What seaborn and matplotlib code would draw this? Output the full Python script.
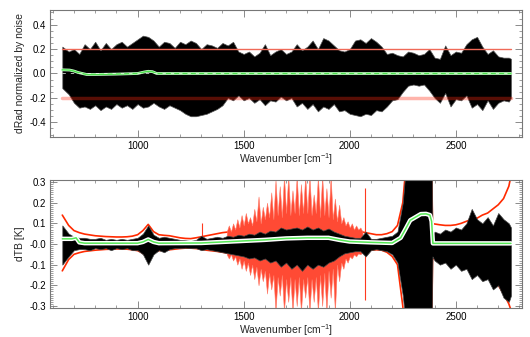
import numpy as np
import pandas as pd
import matplotlib
matplotlib.use("Agg")
import matplotlib.pyplot as plt
import seaborn as sns
from matplotlib.ticker import MultipleLocator, FixedLocator

# ---------------- data ----------------
# top panel: envelope of dRad/noise spectrum
wn_top = np.r_[645, np.arange(675, 2751, 25), 2760]
top_hi = [0.22, 0.18, 0.20, 0.16, 0.24, 0.20, 0.26, 0.19, 0.25, 0.20, 0.24, 0.26, 0.22, 0.25,
          0.28, 0.31, 0.30, 0.27, 0.22, 0.26, 0.25, 0.21, 0.26, 0.24, 0.27, 0.25, 0.20, 0.24,
          0.23, 0.21, 0.25, 0.23, 0.26, 0.18, 0.16, 0.18, 0.14, 0.17, 0.24, 0.15, 0.18, 0.20,
          0.16, 0.18, 0.24, 0.19, 0.22, 0.27, 0.20, 0.29, 0.27, 0.23, 0.19, 0.18, 0.20, 0.27,
          0.28, 0.25, 0.29, 0.26, 0.22, 0.16, 0.17, 0.15, 0.14, 0.18, 0.17, 0.15, 0.16, 0.20,
          0.13, 0.12, 0.23, 0.15, 0.18, 0.17, 0.24, 0.28, 0.30, 0.22, 0.16, 0.19, 0.14, 0.13,
          0.13, 0.12]
top_lo = [-0.12, -0.17, -0.24, -0.28, -0.27, -0.29, -0.26, -0.30, -0.27, -0.29, -0.25, -0.28,
          -0.26, -0.29, -0.25, -0.28, -0.27, -0.24, -0.27, -0.29, -0.26, -0.28, -0.30, -0.33,
          -0.35, -0.35, -0.34, -0.33, -0.31, -0.29, -0.26, -0.20, -0.22, -0.18, -0.22, -0.20,
          -0.24, -0.21, -0.26, -0.22, -0.23, -0.19, -0.22, -0.20, -0.27, -0.24, -0.29, -0.25,
          -0.31, -0.27, -0.29, -0.25, -0.31, -0.30, -0.33, -0.34, -0.35, -0.33, -0.34, -0.30,
          -0.31, -0.27, -0.22, -0.21, -0.15, -0.10, -0.09, -0.10, -0.09, -0.14, -0.20, -0.24,
          -0.16, -0.27, -0.21, -0.22, -0.18, -0.28, -0.25, -0.30, -0.22, -0.29, -0.24, -0.22,
          -0.23, -0.20]
top_mean_wn = [645, 680, 700, 720, 760, 800, 900, 1000, 1030, 1050, 1070, 1090, 1200, 1500, 2000, 2760]
top_mean = [0.03, 0.028, 0.02, 0.008, -0.008, -0.008, -0.005, 0.0, 0.012, 0.018, 0.015, 0.0,
            0.0, 0.0, 0.0, 0.0]
threshold = [0.2, -0.2]
wn_range = [645, 2760]

# bottom panel: dTB
wn_bot = np.r_[645, np.arange(675, 2376, 25), 2385, 2390, np.arange(2400, 2751, 25), 2760]
red_hi = [0.14, 0.09, 0.065, 0.055, 0.048, 0.044, 0.04, 0.038, 0.036, 0.035, 0.034, 0.034,
          0.035, 0.038, 0.045, 0.065, 0.095, 0.06, 0.045, 0.042, 0.04, 0.035, 0.03, 0.027,
          0.026, 0.03, 0.035, 0.04, 0.045, 0.05, 0.055, 0.058, 0.06, 0.065, 0.068, 0.07,
          0.072, 0.075, 0.08, 0.085, 0.09, 0.095, 0.10, 0.11, 0.12, 0.12, 0.12, 0.12, 0.115,
          0.11, 0.105, 0.10, 0.09, 0.08, 0.07, 0.065, 0.06, 0.055, 0.05, 0.045, 0.045, 0.05,
          0.06, 0.09, 0.2, 0.5, 0.5, 0.5, 0.5, 0.5,
          0.5, 0.098,
          0.097, 0.093, 0.09, 0.09, 0.093, 0.10, 0.11, 0.12, 0.125, 0.14, 0.15, 0.17, 0.19,
          0.22, 0.28, 0.33]
red_lo = [-0.13, -0.075, -0.05, -0.042, -0.036, -0.033, -0.03, -0.028, -0.026, -0.025, -0.024,
          -0.024, -0.025, -0.028, -0.032, -0.045, -0.065, -0.04, -0.032, -0.03, -0.028, -0.025,
          -0.022, -0.02, -0.02, -0.022, -0.025, -0.03, -0.033, -0.036, -0.04, -0.045, -0.05,
          -0.055, -0.06, -0.065, -0.07, -0.08, -0.09, -0.10, -0.11, -0.12, -0.13, -0.14, -0.15,
          -0.15, -0.15, -0.15, -0.14, -0.13, -0.12, -0.10, -0.08, -0.06, -0.05, -0.045, -0.04,
          -0.035, -0.03, -0.028, -0.03, -0.04, -0.06, -0.10, -0.3, -0.6, -0.6, -0.6, -0.6, -0.6,
          -0.6, -0.071,
          -0.071, -0.074, -0.076, -0.078, -0.08, -0.09, -0.10, -0.115, -0.125, -0.135, -0.145,
          -0.17, -0.20, -0.24, -0.29, -0.32]
# dense red spike region (spike tips, 10 cm-1 steps)
spike_wn = np.arange(1420, 2061, 10)
spike_hi = [0.06, 0.09, 0.06, 0.10, 0.07, 0.12, 0.08, 0.14, 0.09, 0.15, 0.10, 0.13, 0.09,
            0.17, 0.11, 0.23, 0.10, 0.18, 0.12, 0.20, 0.13, 0.25, 0.12, 0.31, 0.14, 0.28,
            0.13, 0.33, 0.15, 0.33, 0.14, 0.26, 0.15, 0.33, 0.14, 0.29, 0.15, 0.33, 0.15,
            0.33, 0.14, 0.24, 0.15, 0.33, 0.13, 0.33, 0.14, 0.27, 0.13, 0.33, 0.12, 0.22,
            0.11, 0.19, 0.10, 0.13, 0.09, 0.11, 0.08, 0.10, 0.07, 0.09, 0.07, 0.08, 0.06]
spike_lo = [-0.05, -0.07, -0.05, -0.08, -0.06, -0.10, -0.07, -0.12, -0.08, -0.13, -0.09,
            -0.15, -0.10, -0.17, -0.11, -0.20, -0.12, -0.18, -0.13, -0.24, -0.14, -0.22,
            -0.15, -0.33, -0.16, -0.25, -0.15, -0.33, -0.17, -0.28, -0.16, -0.33, -0.17,
            -0.30, -0.16, -0.33, -0.17, -0.26, -0.16, -0.33, -0.17, -0.28, -0.16, -0.33,
            -0.15, -0.30, -0.14, -0.33, -0.13, -0.26, -0.12, -0.33, -0.10, -0.18, -0.09,
            -0.12, -0.07, -0.09, -0.06, -0.07, -0.05, -0.06, -0.045, -0.05, -0.04]
single_wn = [1303, 2072]
single_hi = [0.10, 0.27]
single_lo = [-0.03, -0.27]
blk_hi = [0.09, 0.05, 0.035, 0.03, 0.03, 0.025, 0.025, 0.03, 0.02, 0.025, 0.02, 0.025, 0.02,
          0.025, 0.03, 0.05, 0.09, 0.045, 0.03, 0.035, 0.03, 0.025, 0.02, 0.018, 0.015, 0.02,
          0.04, 0.025, 0.03, 0.035, 0.03, 0.04, 0.035, 0.045, 0.04, 0.05, 0.045, 0.06, 0.05,
          0.065, 0.06, 0.08, 0.07, 0.075, 0.08, 0.07, 0.085, 0.07, 0.08, 0.065, 0.075, 0.06,
          0.05, 0.04, 0.035, 0.03, 0.03, 0.06, 0.025, 0.025, 0.03, 0.035, 0.04, 0.06, 0.2,
          0.5, 0.5, 0.5, 0.5, 0.5,
          0.5, 0.05,
          0.06, 0.05, 0.07, 0.06, 0.08, 0.07, 0.10, 0.17, 0.12, 0.10, 0.13, 0.09, 0.15, 0.12,
          0.10, 0.08]
blk_lo = [-0.10, -0.06, -0.03, -0.025, -0.025, -0.03, -0.02, -0.025, -0.02, -0.03, -0.02,
          -0.025, -0.02, -0.03, -0.03, -0.05, -0.10, -0.05, -0.03, -0.04, -0.025, -0.02,
          -0.02, -0.018, -0.02, -0.02, -0.03, -0.025, -0.03, -0.035, -0.04, -0.045, -0.05,
          -0.055, -0.06, -0.07, -0.065, -0.08, -0.07, -0.09, -0.08, -0.11, -0.09, -0.12, -0.10,
          -0.13, -0.10, -0.12, -0.10, -0.11, -0.09, -0.08, -0.06, -0.045, -0.04, -0.035,
          -0.035, -0.06, -0.03, -0.025, -0.03, -0.035, -0.05, -0.09, -0.25,
          -0.5, -0.5, -0.5, -0.5, -0.5,
          -0.5, -0.06,
          -0.08, -0.10, -0.09, -0.12, -0.10, -0.13, -0.12, -0.17, -0.15, -0.18, -0.17, -0.22,
          -0.20, -0.26, -0.28, -0.25]
bot_mean_wn = [645, 690, 710, 725, 750, 1000, 1025, 1050, 1075, 1100, 1300, 1400, 1500, 1600,
               1700, 1800, 1900, 1950, 2000, 2100, 2200, 2240, 2260, 2285, 2310, 2335, 2360,
               2378, 2386, 2392, 2760]
bot_mean = [0.025, 0.025, 0.03, 0.008, 0.004, 0.004, 0.01, 0.022, 0.01, 0.004, 0.005, 0.01,
            0.015, 0.02, 0.027, 0.03, 0.03, 0.02, 0.012, 0.008, 0.005, 0.03, 0.067, 0.115,
            0.13, 0.145, 0.146, 0.14, 0.11, 0.003, 0.003]

top_ticks = [0.4, 0.2, 0.0, -0.2, -0.4]
top_ticklabels = ["0.4", "0.2", "0.0", "-0.2", "-0.4"]
bot_ticks = [0.3, 0.2, 0.1, 0.0, -0.1, -0.2, -0.3]
bot_ticklabels = ["0.3", "0.2", "0.1", "-0.0", "-0.1", "-0.2", "-0.3"]
x_ticks = [1000, 1500, 2000, 2500]

# ---------------- style ----------------
sns.set_theme(style="ticks")
plt.rcParams["font.family"] = ["Liberation Sans", "DejaVu Sans"]
plt.rcParams["mathtext.fontset"] = "custom"
plt.rcParams["mathtext.rm"] = "Liberation Sans"
plt.rcParams["mathtext.it"] = "Liberation Sans"

fig = plt.figure(figsize=(5.30, 3.37), dpi=100)
ax1 = fig.add_axes([50 / 530, 1 - 137 / 337, 472 / 530, 127 / 337])
ax2 = fig.add_axes([50 / 530, 1 - 308 / 337, 472 / 530, 128 / 337])

XL = (587, 2812)

def style_axes(ax, ylim, yticks, ylabels, yminor, ylabel):
    ax.set_xlim(*XL)
    ax.set_ylim(*ylim)
    ax.xaxis.set_major_locator(FixedLocator(x_ticks))
    ax.xaxis.set_minor_locator(MultipleLocator(100))
    ax.yaxis.set_major_locator(FixedLocator(yticks))
    ax.set_yticklabels(ylabels)
    ax.yaxis.set_minor_locator(MultipleLocator(yminor))
    ax.tick_params(which="both", direction="in", top=True, right=True,
                   color="#777777", labelsize=7, labelcolor="black", pad=3)
    ax.tick_params(which="major", length=5, width=0.6)
    ax.tick_params(which="minor", length=2.5, width=0.5)
    for s in ax.spines.values():
        s.set_color("#777777")
        s.set_linewidth(0.8)
    ax.set_xlabel(r"Wavenumber [cm$^{-1}$]", fontsize=7.5, labelpad=0)
    ax.set_ylabel(ylabel, fontsize=7.5, labelpad=3)

# ---------------- top panel ----------------
ax1.fill_between(wn_top, top_lo, top_hi, color="black", edgecolor="#555555", lw=0.5, zorder=2)
ax1.plot(wn_range, [threshold[0]] * 2, color="#f06a58", lw=1.0, zorder=4)
ax1.plot(wn_range, [threshold[1]] * 2, color="#ff2a10", alpha=0.35, lw=2.5, zorder=4)
df_top = pd.DataFrame({"wn": top_mean_wn, "v": top_mean})
sns.lineplot(data=df_top, x="wn", y="v", ax=ax1, color="#ccffcc", lw=2.0, zorder=5)
sns.lineplot(data=df_top, x="wn", y="v", ax=ax1, color="#4de04d", lw=1.0, zorder=6)
ax1.plot(wn_range, [0, 0], color="white", lw=0.6, dashes=(4, 6), alpha=0.8, zorder=7)
style_axes(ax1, (-0.52, 0.52), top_ticks, top_ticklabels, 0.05, "dRad normalized by noise")

# ---------------- bottom panel ----------------
df_rh = pd.DataFrame({"wn": wn_bot, "v": red_hi})
df_rl = pd.DataFrame({"wn": wn_bot, "v": red_lo})
sns.lineplot(data=df_rh, x="wn", y="v", ax=ax2, color="#ff2a00", lw=1.2, zorder=1)
sns.lineplot(data=df_rl, x="wn", y="v", ax=ax2, color="#ff2a00", lw=1.2, zorder=1)
ax2.fill_between(spike_wn, spike_lo, spike_hi, color="#ff4a34", lw=0.4, edgecolor="#ff7a66",
                 zorder=1.5)
ax2.vlines(single_wn, single_lo, single_hi, color="#ff3a20", lw=0.8, zorder=1.5)
ax2.fill_between(wn_bot, blk_lo, blk_hi, color="black", edgecolor="#444444", lw=0.5, zorder=2)
df_bm = pd.DataFrame({"wn": bot_mean_wn, "v": bot_mean})
sns.lineplot(data=df_bm, x="wn", y="v", ax=ax2, color="white", lw=3.2, zorder=4)
sns.lineplot(data=df_bm, x="wn", y="v", ax=ax2, color="#55e855", lw=1.1, zorder=5)
style_axes(ax2, (-0.31, 0.31), bot_ticks, bot_ticklabels, 0.01, "dTB [K]")

fig.savefig("out.png", dpi=100)
